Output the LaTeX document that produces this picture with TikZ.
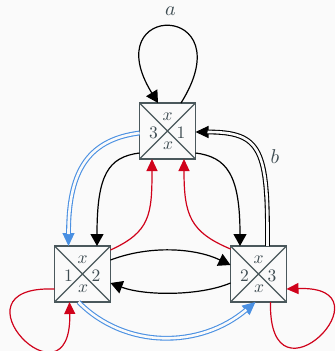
\documentclass[tikz,border=0pt]{standalone}
\usetikzlibrary{arrows.meta,calc}
\definecolor{bg}{RGB}{250,250,250}
\definecolor{boxline}{RGB}{74,88,92}
\definecolor{labelink}{RGB}{62,76,82}
\definecolor{edgered}{RGB}{208,2,27}
\definecolor{edgeblue}{RGB}{74,144,226}
\begin{document}
\begin{tikzpicture}[x=1pt,y=-1pt,
  statebox/.style={draw=boxline, line width=1.4pt, fill=bg, minimum width=56pt,
    minimum height=56pt, inner sep=0pt, outer sep=0pt},
  lbl/.style={text=labelink, font=\normalsize, scale=1.75, inner sep=0pt},
  edgelbl/.style={text=labelink, font=\normalsize, scale=2, inner sep=0pt},
  conn/.style={line width=1.2pt},
  blackedge/.style={conn, draw=black, -{Triangle[length=12pt,width=13pt]}},
  rededge/.style={conn, draw=edgered, -{Triangle[length=12pt,width=11pt]}},
  % a double connector: a single stroke carrying the tip, then the
  % double stroke laid over it, stopping where the tip begins
  dbltip/.style={line width=1.1pt, -{Triangle[length=13pt,width=12pt]}},
  dblbody/.style={double=bg, double distance=2.6pt, line width=1.1pt, shorten >=12pt},
]
\fill[bg] (0,0) rectangle (335,351);
\useasboundingbox (0,0) rectangle (335,351);

% the three states, each split by its diagonals
\node[statebox] (t) at (167.5,131) {};
\node[statebox] (l) at (82.5,274) {};
\node[statebox] (r) at (258.5,274) {};
\foreach \s in {t,l,r}
  \draw[boxline, line width=1.1pt] (\s.north west) -- (\s.south east)
                                   (\s.north east) -- (\s.south west);

% labels inside the states
\node[lbl] (t-n) at ($(t)+(0,-14.5)$) {$x$};
\node[lbl] (t-w) at ($(t)+(-14,2)$) {$3$};
\node[lbl] (t-e) at ($(t)+(13.5,1.8)$) {$1$};
\node[lbl] (t-s) at ($(t)+(0.5,14.8)$) {$x$};
\node[lbl] (l-n) at ($(l)+(0,-14.5)$) {$x$};
\node[lbl] (l-w) at ($(l)+(-14,2)$) {$1$};
\node[lbl] (l-e) at ($(l)+(13.5,1.8)$) {$2$};
\node[lbl] (l-s) at ($(l)+(0.5,14.8)$) {$x$};
\node[lbl] (r-n) at ($(r)+(0,-14.5)$) {$x$};
\node[lbl] (r-w) at ($(r)+(-14,2)$) {$2$};
\node[lbl] (r-e) at ($(r)+(13.5,1.8)$) {$3$};
\node[lbl] (r-s) at ($(r)+(0.5,14.8)$) {$x$};

% edge labels
\node[edgelbl] (la) at (170.5,11.5) {$a$};
\node[edgelbl] (lb) at (275,157) {$b$};

% black connectors
\draw[blackedge] ($(t.north)+(13.5,0)$) .. controls (245,1) and (95,1) .. ($(t.north)+(-9.5,0)$);
\draw[blackedge] ($(t.west)+(0,22)$) .. controls (108,157) and (97,175) .. ($(l.north)+(14.5,0)$);
\draw[blackedge] ($(t.east)+(0,22)$) .. controls (227,157) and (240,175) .. ($(r.north)+(-18.5,0)$);
\draw[blackedge] ($(l.east)+(0,-14)$) .. controls (150,245) and (195,248) .. ($(r.west)+(0,-9)$);
\draw[blackedge] ($(r.west)+(0,9)$) .. controls (200,296) and (145,296) .. ($(l.east)+(0,9)$);

% red connectors
\draw[rededge] ($(l.east)+(0,-24)$) .. controls (150,232) and (152,215) .. ($(t.south)+(-15.5,0)$);
\draw[rededge] ($(r.west)+(0,-25)$) .. controls (190,232) and (184,215) .. ($(t.south)+(16.5,0)$);
\draw[rededge] ($(l.west)+(0,15)$) .. controls (-55,285) and (72,415) .. ($(l.south)+(-13,0)$);
\draw[rededge] ($(r.south)+(12,0)$) .. controls (268,415) and (395,285) .. ($(r.east)+(0,15)$);

% double connectors
\draw[dbltip, draw=edgeblue] ($(t.west)+(0,2)$) .. controls (85,140) and (68.5,175) .. ($(l.north)+(-14,0)$);
\draw[dblbody, draw=edgeblue] ($(t.west)+(0,2)$) .. controls (85,140) and (68.5,175) .. ($(l.north)+(-14,0)$);
\draw[dbltip, draw=edgeblue] ($(l.south)+(-4,0)$) .. controls (125,349) and (200,349) .. ($(r.south)+(-3,0)$);
\draw[dblbody, draw=edgeblue] ($(l.south)+(-4,0)$) .. controls (125,349) and (200,349) .. ($(r.south)+(-3,0)$);
\draw[dbltip, draw=black] ($(r.north)+(9,0)$) .. controls (268,150) and (262,132) .. ($(t.east)+(0,1)$);
\draw[dblbody, draw=black] ($(r.north)+(9,0)$) .. controls (268,150) and (262,132) .. ($(t.east)+(0,1)$);
\end{tikzpicture}
\end{document}
